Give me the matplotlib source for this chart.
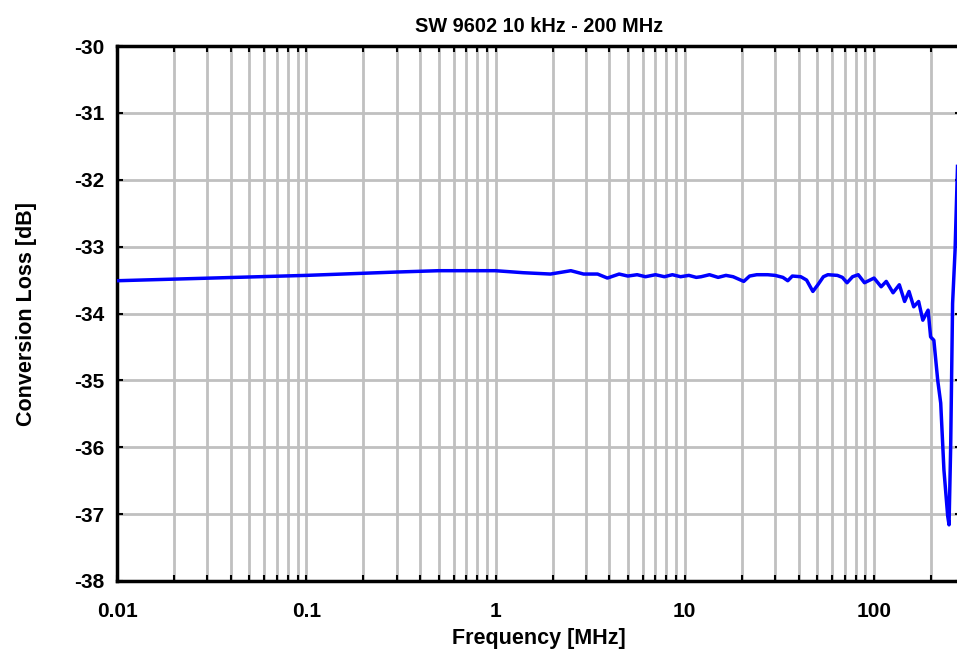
import numpy as np
import matplotlib
matplotlib.use("Agg")
import matplotlib.pyplot as plt
from matplotlib.ticker import FixedLocator, NullFormatter, FixedFormatter

plt.rcParams['font.family'] = ['Liberation Sans', 'DejaVu Sans']

# frequency in MHz, conversion loss in dB
freq = [0.01, 0.1, 0.3, 0.5, 1.0, 1.4, 1.95, 2.5, 2.92, 3.46, 3.9, 4.5, 5.0, 5.6,
        6.2, 7.0, 7.8, 8.6, 9.5, 10.5, 11.5, 12.2, 13.5, 15.0, 16.5, 18.0, 20.5,
        22.0, 24.0, 27.4, 30.0, 33.0, 35.0, 37.0, 41.0, 44.0, 47.5, 50.5, 54.0,
        57.0, 64.0, 68.0, 72.0, 77.0, 82.5, 89.0, 100.0, 109.0, 116.0, 126.0,
        136.0, 145.0, 153.0, 162.0, 172.0, 181.0, 193.0, 199.0, 207.0, 217.0,
        225.0, 234.0, 245.0, 249.0, 254.0, 260.0, 268.0, 276.0]
loss = [-33.51, -33.43, -33.38, -33.36, -33.36, -33.39, -33.41, -33.36, -33.41,
        -33.41, -33.47, -33.41, -33.44, -33.42, -33.45, -33.42, -33.45, -33.42,
        -33.45, -33.43, -33.46, -33.45, -33.42, -33.46, -33.43, -33.45, -33.52,
        -33.44, -33.42, -33.42, -33.43, -33.46, -33.51, -33.44, -33.45, -33.50,
        -33.67, -33.57, -33.45, -33.42, -33.43, -33.46, -33.54, -33.45, -33.42,
        -33.54, -33.47, -33.60, -33.52, -33.69, -33.57, -33.82, -33.67, -33.90,
        -33.82, -34.10, -33.95, -34.35, -34.40, -35.00, -35.34, -36.34, -37.03,
        -37.16, -35.99, -33.85, -33.05, -31.80]

x_major = [0.01, 0.1, 1, 10, 100]
x_labels = ['0.01', '0.1', '1', '10', '100']
y_ticks = [-38, -37, -36, -35, -34, -33, -32, -31, -30]

fig = plt.figure(figsize=(9.57, 6.5), dpi=100)
# the right edge of the plot box lies just outside the picture
ax = fig.add_axes([117 / 957, 1 - 581 / 650, 844 / 957, 535 / 650])

ax.plot(freq, loss, color='#0000ff', lw=2.5, zorder=3)

ax.set_xscale('log')
ax.set_xlim(0.01, 288)
ax.set_ylim(-38, -30)

minors = [m * 10.0 ** e for e in range(-2, 3) for m in range(2, 10)]
ax.xaxis.set_major_locator(FixedLocator(x_major))
ax.xaxis.set_major_formatter(FixedFormatter(x_labels))
ax.xaxis.set_minor_locator(FixedLocator(minors))
ax.xaxis.set_minor_formatter(NullFormatter())
ax.set_yticks(y_ticks)
ax.set_yticklabels([str(v) for v in y_ticks])

ax.grid(True, which='both', axis='x', color='#c0c0c0', lw=2)
ax.grid(True, which='major', axis='y', color='#c0c0c0', lw=2)
ax.set_axisbelow(True)

for s in ax.spines.values():
    s.set_linewidth(2.5)
ax.tick_params(which='both', direction='in', top=True, right=True,
               length=4, width=1.5)
ax.tick_params(axis='x', labelsize=15, pad=15)
ax.tick_params(axis='y', labelsize=15, pad=9)
for lab in ax.get_xticklabels() + ax.get_yticklabels():
    lab.set_fontweight('bold')

ax.set_title('SW 9602 10 kHz - 200 MHz', fontsize=14.3, fontweight='bold', pad=10)
ax.set_xlabel('Frequency [MHz]', fontsize=15.5, fontweight='bold', labelpad=5)
ax.set_ylabel('Conversion Loss [dB]', fontsize=15.5, fontweight='bold', labelpad=27)

fig.savefig('out.png', dpi=100)
